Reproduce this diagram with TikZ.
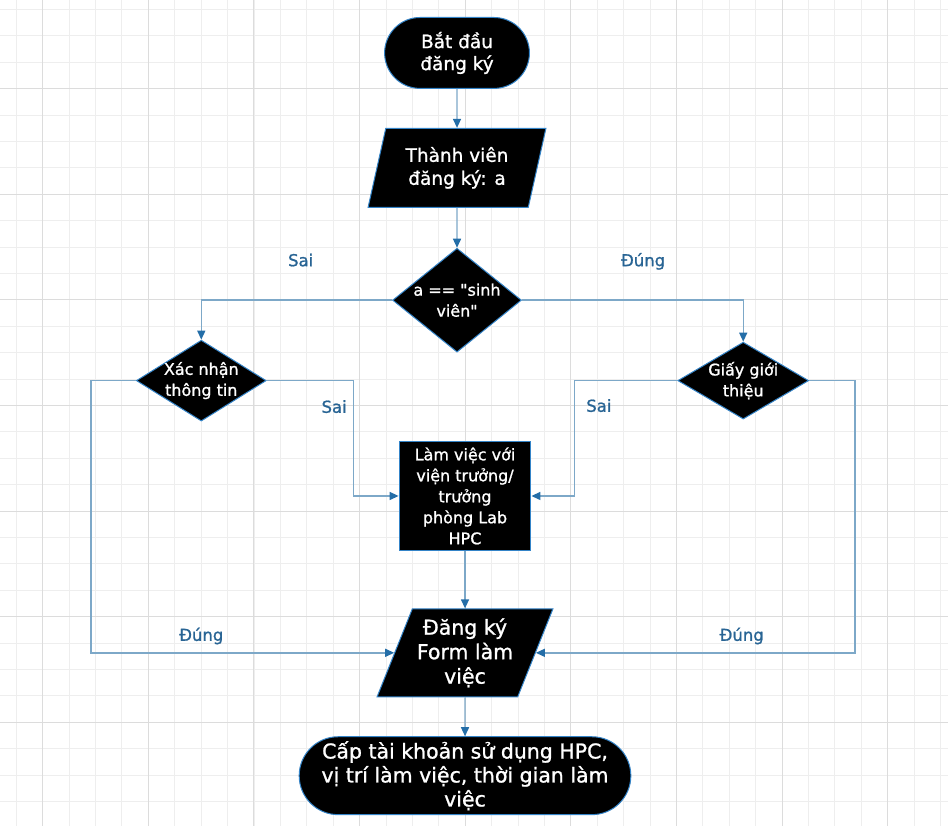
\documentclass[tikz,border=0pt]{standalone}
\usepackage{fontspec}
\setmainfont{DejaVu Sans}
\newfontfamily\heavyfont{DejaVu Sans}[FakeBold=1.1]
\usetikzlibrary{arrows.meta,shapes.geometric,shapes.misc}

\definecolor{gridminor}{RGB}{238,238,238}
\definecolor{gridmajor}{RGB}{220,220,220}
\definecolor{lineblue}{RGB}{125,168,200}
\definecolor{tipblue}{RGB}{36,110,168}
\definecolor{edgeblue}{RGB}{52,132,200}
\definecolor{labelblue}{RGB}{40,100,148}

\begin{document}
\begin{tikzpicture}[x=1pt,y=-1pt,
    >={Triangle[length=9pt,width=8pt,color=tipblue]},
    flow/.style={draw=lineblue,line width=1.4pt},
    shapebase/.style={fill=black,draw=edgeblue,line width=1pt,text=white,align=center,inner sep=0pt},
    term/.style={shapebase,rounded rectangle},
    iobox/.style={shapebase,trapezium,trapezium stretches body},
    decide/.style={shapebase,diamond,inner ysep=-4pt},
    workbox/.style={shapebase,rectangle},
    answer/.style={text=labelblue,font=\heavyfont\fontsize{16.5}{18}\selectfont,anchor=base}]

    % background grid
    \fill[white] (0,0) rectangle (948,826);
    \foreach \i in {0,...,35}
        \draw[gridminor,line width=1pt] ({15.9+26.43*\i},0) -- ++(0,826);
    \foreach \j in {0,...,30}
        \draw[gridminor,line width=1pt] (0,{9+26.43*\j}) -- ++(948,0);
    \foreach \k in {0,...,8}
        \draw[gridmajor,line width=1pt] ({42.3+105.72*\k},0) -- ++(0,826);
    \foreach \k in {0,...,6}
        \draw[gridmajor,line width=1pt] (0,{88.3+105.72*\k}) -- ++(948,0);
    \useasboundingbox (0,0) rectangle (948,826);

    % nodes
    \node[term,minimum width=145pt,minimum height=71pt,font=\heavyfont\fontsize{18.5}{22}\selectfont]
        (start) at (457,52.5) {Bắt đầu\\đăng ký};
    \node[iobox,trapezium left angle=67,trapezium right angle=113,
          minimum width=178pt,minimum height=79pt,font=\heavyfont\fontsize{18.5}{23}\selectfont]
        (member) at (457,167.5) {Thành viên\\đăng ký: a};
    \node[decide,aspect=1.24,minimum width=129pt,minimum height=104pt,font=\heavyfont\fontsize{16}{21}\selectfont]
        (check) at (457,300) {a == \symbol{34}sinh\\viên\symbol{34}};
    \node[decide,aspect=1.6,minimum width=130pt,minimum height=81pt,font=\heavyfont\fontsize{16}{21}\selectfont]
        (confirm) at (201,380.5) {Xác nhận\\thông tin};
    \node[decide,aspect=1.7,minimum width=131pt,minimum height=77pt,font=\heavyfont\fontsize{16}{21}\selectfont]
        (letter) at (743.5,380.5) {Giấy giới\\thiệu};
    \node[workbox,minimum width=132pt,minimum height=110pt,font=\heavyfont\fontsize{16}{21}\selectfont]
        (work) at (465,496) {Làm việc với\\viện trưởng/\\trưởng\\phòng Lab\\HPC};
    \node[iobox,trapezium left angle=63,trapezium right angle=117,
          minimum width=176pt,minimum height=88pt,font=\heavyfont\fontsize{20.5}{24.5}\selectfont]
        (form) at (465,653) {Đăng ký\\Form làm\\việc};
    \node[term,minimum width=332pt,minimum height=78pt,font=\heavyfont\fontsize{20.5}{24}\selectfont]
        (account) at (465,776) {Cấp tài khoản sử dụng HPC,\\vị trí làm việc, thời gian làm\\việc};

    % labels
    \node[answer] (saiA)  at (300.5,266) {Sai};
    \node[answer] (dungA) at (643.3,266) {Đúng};
    \node[answer] (saiB)  at (334,412.7) {Sai};
    \node[answer] (saiC)  at (599,411.7) {Sai};
    \node[answer] (dungB) at (201,641) {Đúng};
    \node[answer] (dungC) at (742,641) {Đúng};

    % connectors
    \draw[flow,->] (start) -- (member);
    \draw[flow,->] (member) -- (check);
    \draw[flow,->] (check.west) -| (confirm.north);
    \draw[flow,->] (check.east) -| (letter.north);
    \draw[flow,->] (confirm.east) -- ++(87,0) |- (work.west);
    \draw[flow,->] (letter.west) -- ++(-103,0) |- (work.east);
    \draw[flow,->] (confirm.west) -- ++(-45,0) |- (form.west);
    \draw[flow,->] (letter.east) -- ++(46,0) |- (form.east);
    \draw[flow,->] (work) -- (form);
    \draw[flow,->] (form) -- (account);
\end{tikzpicture}
\end{document}
